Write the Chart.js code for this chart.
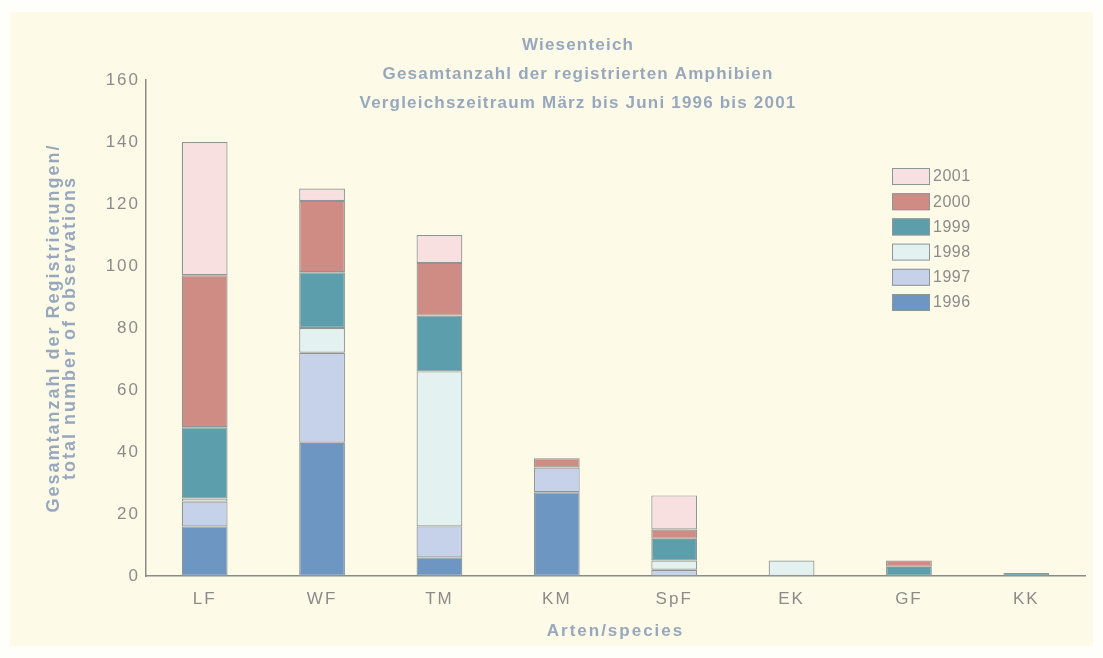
<!DOCTYPE html>
<html>
<head>
<meta charset="utf-8">
<script src="https://cdn.jsdelivr.net/npm/chart.js@4/dist/chart.umd.min.js"></script>
<style>
  html, body { margin: 0; padding: 0; background: #fefefa; }
  #wrap { width: 1103px; height: 658px; position: relative; }
</style>
</head>
<body>
<div id="wrap"><canvas id="c" width="1103" height="658"></canvas></div>
<script>
const categories = ["LF", "WF", "TM", "KM", "SpF", "EK", "GF", "KK"];
const years = ["1996", "1997", "1998", "1999", "2000", "2001"];
const v1996 = [16, 43, 6, 27, 0, 0, 0, 0];
const v1997 = [8, 29, 10, 8, 2, 0, 0, 0];
const v1998 = [1, 8, 50, 0, 3, 5, 0, 0];
const v1999 = [23, 18, 18, 0, 7, 0, 3, 1];
const v2000 = [49, 23, 17, 3, 3, 0, 2, 0];
const v2001 = [43, 4, 9, 0, 11, 0, 0, 0];
const yTicks = [0, 20, 40, 60, 80, 100, 120, 140, 160];
const titleLines = ["Wiesenteich", "Gesamtanzahl der registrierten Amphibien", "Vergleichszeitraum März bis Juni 1996 bis 2001"];
const yTitle = ["Gesamtanzahl der Registrierungen/", "total number of observations"];
const xTitle = "Arten/species";

const seriesValues = [v1996, v1997, v1998, v1999, v2000, v2001];
const colors = ["#6d97c2", "#c5d2ea", "#e3f2f0", "#5c9eab", "#cf8c85", "#f8dfe0"];
const textGrey = "#8b8b8b";
const titleBlue = "#97a8be";
const FONT = "'Liberation Sans', Arial, sans-serif";

const datasets = years.map((y, i) => ({
  label: y,
  data: seriesValues[i].map(v => v === 0 ? null : v),
  backgroundColor: colors[i],
  borderColor: "#8e9595",
  borderWidth: 1.2,
  borderSkipped: false,
  barPercentage: 0.39,
  categoryPercentage: 1.0
}));

const bgPlugin = {
  id: "bg",
  beforeDraw(chart) {
    const ctx = chart.ctx;
    ctx.fillStyle = "#fefefa";
    ctx.fillRect(0, 0, chart.width, chart.height);
    ctx.fillStyle = "#fdfbe7";
    ctx.fillRect(10, 12, chart.width - 20, chart.height - 24);
    ctx.letterSpacing = "2px";
  }
};

const titlePlugin = {
  id: "titleText",
  afterDraw(chart) {
    const ctx = chart.ctx;
    ctx.save();
    ctx.letterSpacing = "1.2px";
    ctx.fillStyle = titleBlue;
    ctx.font = "bold 17px " + FONT;
    ctx.textAlign = "center";
    ctx.textBaseline = "middle";
    const ys = [45, 74, 103];
    titleLines.forEach((t, i) => ctx.fillText(t, 578, ys[i]));
    ctx.restore();
  }
};

const legendPlugin = {
  id: "legendBox",
  afterDraw(chart) {
    const ctx = chart.ctx;
    ctx.save();
    ctx.letterSpacing = "0.5px";
    const ds = chart.data.datasets.slice().reverse();
    ctx.font = "16px " + FONT;
    ctx.textBaseline = "middle";
    ctx.textAlign = "left";
    ds.forEach((d, i) => {
      const top = 168 + i * 25.2;
      ctx.fillStyle = d.backgroundColor;
      ctx.fillRect(892, top, 38, 17);
      ctx.strokeStyle = "#8e9595";
      ctx.lineWidth = 1;
      ctx.strokeRect(892.5, top + 0.5, 37, 16);
      ctx.fillStyle = textGrey;
      ctx.fillText(d.label, 933, top + 9);
    });
    ctx.restore();
  }
};

new Chart(document.getElementById("c"), {
  type: "bar",
  data: { labels: categories, datasets },
  options: {
    responsive: false,
    animation: false,
    devicePixelRatio: 1,
    layout: { padding: { top: 80, right: 18, left: 0, bottom: 0 } },
    plugins: {
      legend: { display: false },
      title: { display: false },
      tooltip: { enabled: false }
    },
    scales: {
      x: {
        stacked: true,
        grid: { display: false, drawTicks: false },
        border: { display: true, color: "#8a8a88", width: 1.5 },
        ticks: { color: textGrey, font: { family: FONT, size: 17 }, padding: 13 },
        title: {
          display: true, text: xTitle, color: titleBlue,
          font: { family: FONT, size: 17, weight: "bold" },
          padding: { top: 0, bottom: 16 }
        },
        afterFit(scale) { scale.height = 82; }
      },
      y: {
        stacked: true,
        min: 0, max: 160,
        afterBuildTicks(scale) { scale.ticks = yTicks.map(v => ({ value: v })); },
        grid: { display: false, drawTicks: false },
        border: { display: true, color: "#8a8a88", width: 1.5 },
        ticks: { color: textGrey, font: { family: FONT, size: 17 }, padding: 6 },
        title: {
          display: true, text: yTitle, color: titleBlue,
          font: { family: FONT, size: 18, weight: "bold", lineHeight: 0.9 },
          padding: { top: 46, bottom: 0 }
        },
        afterFit(scale) { scale.width = 146; }
      }
    }
  },
  plugins: [bgPlugin, titlePlugin, legendPlugin]
});
</script>
</body>
</html>
